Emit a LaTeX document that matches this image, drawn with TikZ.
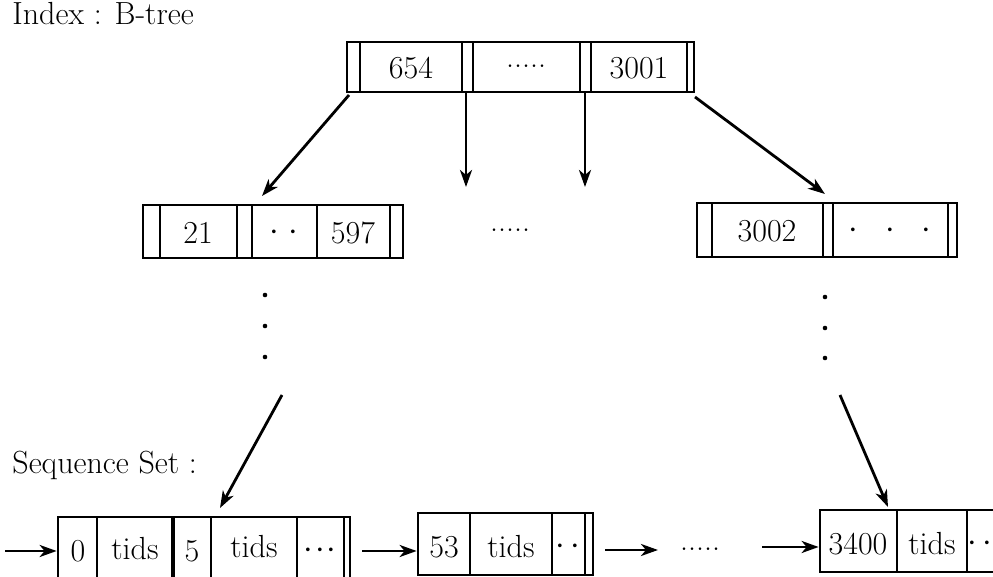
\documentclass[tikz,border=0pt]{standalone}
\usetikzlibrary{arrows.meta}
\begin{document}
\begin{tikzpicture}[x=0.5pt,y=-0.5pt,
  every node/.style={font=\fontsize{16}{19}\selectfont},
  rec/.style={draw, line width=1.35pt, rectangle, inner sep=0pt},
  bar/.style={line width=1.35pt},
  lbl/.style={inner sep=0pt, anchor=center},
  arr/.style={-{Stealth[length=8.5pt,width=6pt,inset=2.5pt]}, line width=1.4pt}]
\clip (0,0) rectangle (993,577);
% titles
\node[anchor=base west, inner sep=0pt] (idx) at (12,25) {Index : B-tree};
\node[anchor=base west, inner sep=0pt] (seq) at (12,474) {Sequence Set :};
% top record
\node[rec, minimum width=173.5pt, minimum height=25pt] (top) at (520.5,67) {};
\foreach \x in {360,462,473,580,591,687} \draw[bar] (\x,42) -- (\x,92);
\node[lbl] (t1) at (411,68) {654};
\node[lbl] (t2) at (526,66) {.....};
\node[lbl] (t3) at (639,68) {3001};
% middle left record
\node[rec, minimum width=130pt, minimum height=26.5pt] (ml) at (273,231.5) {};
\foreach \x in {160,237,252,317,390} \draw[bar] (\x,205) -- (\x,258);
\node[lbl] (m1) at (198,233) {21};
\node[lbl] (m2) at (284,233) {$\cdot\;\cdot$};
\node[lbl] (m3) at (353,233) {597};
% middle dots
\node[lbl] (mid) at (510,230) {.....};
% middle right record
\node[rec, minimum width=130pt, minimum height=27pt] (mr) at (827,230) {};
\foreach \x in {712,823,833,948} \draw[bar] (\x,203) -- (\x,257);
\node[lbl] (r1) at (767,231) {3002};
\node[lbl] (r2) at (890,231) {$\cdot\;\;\cdot\;\;\cdot$};
% vertical dots
\foreach \y in {295,326,357} \fill (265,\y) circle[radius=2.3];
\foreach \y in {297,328,358} \fill (825,\y) circle[radius=2.3];
% arrows from top record
\coordinate (a1s) at (349,95);  \coordinate (a1e) at (262,196);
\coordinate (a2s) at (466,93);  \coordinate (a2e) at (466,187);
\coordinate (a3s) at (585,93);  \coordinate (a3e) at (585,187);
\coordinate (a4s) at (695,97);  \coordinate (a4e) at (825,194);
\draw[arr] (a1s) -- (a1e);
\draw[arr] (a2s) -- (a2e);
\draw[arr] (a3s) -- (a3e);
\draw[arr] (a4s) -- (a4e);
% arrows to sequence set
\coordinate (l1s) at (282,395); \coordinate (l1e) at (220,508);
\coordinate (r1s) at (840,395); \coordinate (r1e) at (888,507);
\draw[arr] (l1s) -- (l1e);
\draw[arr] (r1s) -- (r1e);
% sequence set box 1 (bottom open, clipped)
\node[rec, minimum width=146pt, minimum height=50pt] (b1) at (204,567) {};
\foreach \x in {97,211,297,344} \draw[bar] (\x,517) -- (\x,620);
\draw[line width=1.6pt] (173,517) -- (173,620);
\node[lbl] (b1a) at (78,551) {0};
\node[lbl] (b1b) at (135,549) {tids};
\node[lbl] (b1c) at (192,551) {5};
\node[lbl] (b1d) at (254,547) {tids};
\node[lbl] (b1e) at (320,551) {$\cdot\!\cdot\!\cdot$};
% box 2
\node[rec, minimum width=87.5pt, minimum height=31pt] (b2) at (505.5,544) {};
\foreach \x in {470,552,585} \draw[bar] (\x,513) -- (\x,575);
\node[lbl] (b2a) at (444,547) {53};
\node[lbl] (b2b) at (511,547) {tids};
\node[lbl] (b2c) at (568,547) {$\cdot\,\cdot$};
% dots between
\node[lbl] (bd) at (700,549) {.....};
% box 3 (runs off right edge)
\node[rec, minimum width=100pt, minimum height=31pt] (b3) at (920,541) {};
\foreach \x in {897,967} \draw[bar] (\x,510) -- (\x,572);
\node[lbl] (b3a) at (858,544) {3400};
\node[lbl] (b3b) at (932,544) {tids};
\node[lbl] (b3c) at (980,544) {$\cdot\,\cdot$};
% horizontal arrows
\coordinate (h0) at (5,551);
\draw[arr] (h0) -- (b1.west |- h0);
\coordinate (h1) at (362,551);
\draw[arr] (h1) -- (b2.west |- h1);
\coordinate (h2) at (605,550); \coordinate (h2e) at (658,550);
\draw[arr] (h2) -- (h2e);
\coordinate (h3) at (762,547);
\draw[arr] (h3) -- (b3.west |- h3);
\end{tikzpicture}
\end{document}
